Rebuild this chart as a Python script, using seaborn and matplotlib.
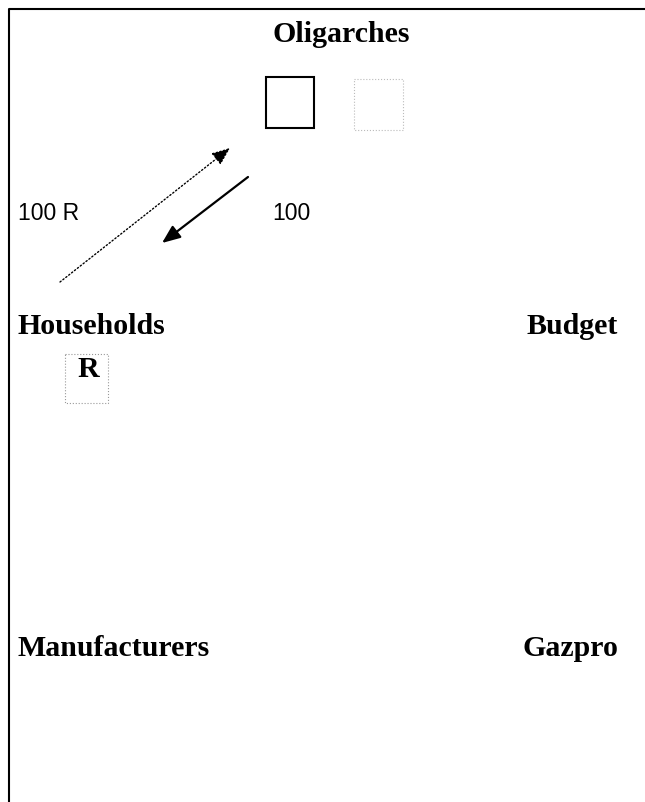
import matplotlib
matplotlib.use("Agg")
import matplotlib.pyplot as plt
import seaborn as sns
import pandas as pd

# sectors of the flow diagram and where their labels sit (pixel grid)
sectors = ["Oligarches", "Households", "Budget", "Manufacturers", "Gazpro"]
sector_x = [341, 18, 618, 18, 618]
sector_y = [35, 327, 327, 649, 649]
sector_ha = ["center", "left", "right", "left", "right"]

# flows between Households and Oligarches
flow_labels = ["100 R", "100"]
flow_start_x = [60, 248]
flow_start_y = [283, 178]
flow_end_x = [230, 162]
flow_end_y = [149, 244]
flow_style = [":", "-"]
label_x = [18, 272]
label_y = [214, 214]

sns.set_style("white")
plt.rcParams["font.family"] = ["Liberation Serif", "DejaVu Sans"]
plt.rcParams["text.color"] = "black"

fig = plt.figure(figsize=(6.45, 8.03), dpi=100)
ax = fig.add_axes([0, 0, 1, 1])
ax.set_xlim(0, 645)
ax.set_ylim(803, 0)
ax.axis("off")

# frame (top and left only)
frame = pd.DataFrame({"x": [645, 9, 9], "y": [10, 10, 803]})
sns.lineplot(data=frame, x="x", y="y", sort=False, color="black", lw=1.5, ax=ax, estimator=None)

for name, x, y, ha in zip(sectors, sector_x, sector_y, sector_ha):
    ax.text(x, y, name, ha=ha, va="center", fontsize=21.5, fontweight="bold", color="black")

for sx, sy, ex, ey, ls in zip(flow_start_x, flow_start_y, flow_end_x, flow_end_y, flow_style):
    ax.annotate("", xy=(ex, ey), xytext=(sx, sy),
                arrowprops=dict(arrowstyle="-|>,head_length=1.1,head_width=0.45",
                                color="black", lw=1.6 if ls == "-" else 1.0,
                                linestyle=ls, shrinkA=0, shrinkB=0))

for txt, x, y in zip(flow_labels, label_x, label_y):
    ax.text(x, y, txt, ha="left", va="center", fontsize=16.5, family="Liberation Sans", color="black")

# boxes near Oligarches and Households
ax.add_patch(plt.Rectangle((266, 78), 48, 51, fill=False, ec="black", lw=1.5))
ax.add_patch(plt.Rectangle((354, 80), 49, 51, fill=False, ec="#bbbbbb", lw=0.8, ls=":"))
ax.add_patch(plt.Rectangle((65, 355), 43, 49, fill=False, ec="#999999", lw=0.8, ls=":"))
ax.text(88, 370, "R", ha="center", va="center", fontsize=21.5, fontweight="bold", color="black")

fig.savefig("out.png", dpi=100)
